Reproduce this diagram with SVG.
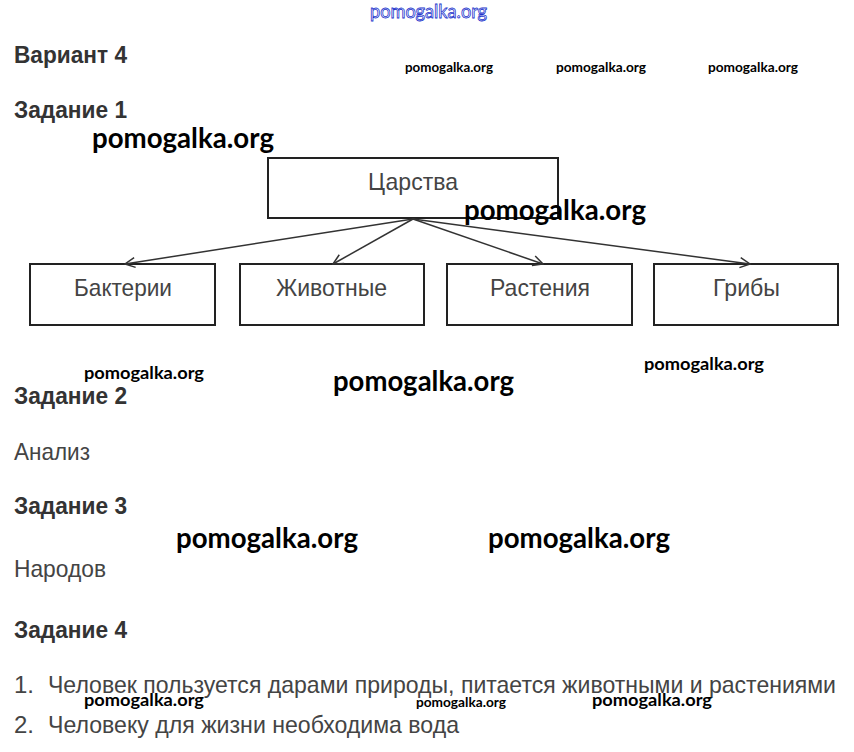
<svg xmlns="http://www.w3.org/2000/svg" width="854" height="752" viewBox="0 0 854 752">
<style>
.h{font-family:"Liberation Sans",Arial,sans-serif;font-weight:bold;font-size:24px;fill:#333}
.t{font-family:"Liberation Sans",Arial,sans-serif;font-size:24px;fill:#444}
.box{fill:#fff;stroke:#222;stroke-width:2}
.bl{font-family:"Liberation Sans",Arial,sans-serif;font-size:24px;fill:#444}
.wm{font-family:Lato,"Open Sans",sans-serif;font-weight:bold;fill:#000}
.con{stroke:#333;stroke-width:1.5;fill:none}
</style>
<defs>
<marker id="ah" viewBox="0 0 12 12" refX="11" refY="6" markerWidth="12" markerHeight="12" markerUnits="userSpaceOnUse" orient="auto">
<path d="M1,1 L11,6 L1,11" fill="none" stroke="#333" stroke-width="1.5"/>
</marker>
</defs>
<rect width="854" height="752" fill="#fff"/>
<text x="370" y="18" textLength="117" lengthAdjust="spacingAndGlyphs" font-family="Lato,sans-serif" font-size="19" fill="#fff" stroke="#2233cc" stroke-width="0.8">pomogalka.org</text>
<text class="h" x="14" y="63" textLength="113" lengthAdjust="spacingAndGlyphs">Вариант 4</text>
<text class="h" x="14" y="118" textLength="113" lengthAdjust="spacingAndGlyphs">Задание 1</text>
<g id="n0"><rect class="box" x="268" y="158" width="290" height="60"/><text class="bl" x="368" y="190" textLength="90" lengthAdjust="spacingAndGlyphs">Царства</text></g>
<g id="n1"><rect class="box" x="30" y="264" width="185" height="61"/><text class="bl" x="74" y="296" textLength="98" lengthAdjust="spacingAndGlyphs">Бактерии</text></g>
<g id="n2"><rect class="box" x="240" y="264" width="184" height="61"/><text class="bl" x="276" y="296" textLength="111" lengthAdjust="spacingAndGlyphs">Животные</text></g>
<g id="n3"><rect class="box" x="447" y="264" width="185" height="61"/><text class="bl" x="490" y="296" textLength="100" lengthAdjust="spacingAndGlyphs">Растения</text></g>
<g id="n4"><rect class="box" x="654" y="264" width="184" height="61"/><text class="bl" x="713" y="296" textLength="67" lengthAdjust="spacingAndGlyphs">Грибы</text></g>
<g id="connectors">
<line class="con" x1="413" y1="219" x2="125" y2="264" marker-end="url(#ah)"/>
<line class="con" x1="413" y1="219" x2="333" y2="264" marker-end="url(#ah)"/>
<line class="con" x1="413" y1="219" x2="543" y2="264" marker-end="url(#ah)"/>
<line class="con" x1="413" y1="219" x2="750" y2="264" marker-end="url(#ah)"/>
</g>
<text class="h" x="14" y="404" textLength="113" lengthAdjust="spacingAndGlyphs">Задание 2</text>
<text class="t" x="14" y="460" textLength="76" lengthAdjust="spacingAndGlyphs">Анализ</text>
<text class="h" x="14" y="514" textLength="113" lengthAdjust="spacingAndGlyphs">Задание 3</text>
<text class="t" x="14" y="577" textLength="92" lengthAdjust="spacingAndGlyphs">Народов</text>
<text class="h" x="14" y="638" textLength="113" lengthAdjust="spacingAndGlyphs">Задание 4</text>
<text class="t" x="14" y="693" textLength="20" lengthAdjust="spacingAndGlyphs">1.</text>
<text class="t" x="48" y="693" textLength="788" lengthAdjust="spacingAndGlyphs">Человек пользуется дарами природы, питается животными и растениями</text>
<text class="t" x="14" y="733" textLength="20" lengthAdjust="spacingAndGlyphs">2.</text>
<text class="t" x="48" y="733" textLength="411" lengthAdjust="spacingAndGlyphs">Человеку для жизни необходима вода</text>
<g>
<text class="wm" x="405" y="72" font-size="14" textLength="88" lengthAdjust="spacingAndGlyphs">pomogalka.org</text>
<text class="wm" x="556" y="72" font-size="14" textLength="90" lengthAdjust="spacingAndGlyphs">pomogalka.org</text>
<text class="wm" x="708" y="72" font-size="14" textLength="90" lengthAdjust="spacingAndGlyphs">pomogalka.org</text>
<text class="wm" x="92" y="148" font-size="28" textLength="182" lengthAdjust="spacingAndGlyphs">pomogalka.org</text>
<text class="wm" x="464" y="220" font-size="28" textLength="182" lengthAdjust="spacingAndGlyphs">pomogalka.org</text>
<text class="wm" x="84" y="379" font-size="17" textLength="120" lengthAdjust="spacingAndGlyphs">pomogalka.org</text>
<text class="wm" x="333" y="391" font-size="28" textLength="181" lengthAdjust="spacingAndGlyphs">pomogalka.org</text>
<text class="wm" x="644" y="370" font-size="17" textLength="120" lengthAdjust="spacingAndGlyphs">pomogalka.org</text>
<text class="wm" x="176" y="548" font-size="28" textLength="182" lengthAdjust="spacingAndGlyphs">pomogalka.org</text>
<text class="wm" x="488" y="548" font-size="28" textLength="182" lengthAdjust="spacingAndGlyphs">pomogalka.org</text>
<text class="wm" x="84" y="706" font-size="17" textLength="120" lengthAdjust="spacingAndGlyphs">pomogalka.org</text>
<text class="wm" x="416" y="707" font-size="14" textLength="90" lengthAdjust="spacingAndGlyphs" font-weight="normal">pomogalka.org</text>
<text class="wm" x="592" y="706" font-size="17" textLength="120" lengthAdjust="spacingAndGlyphs">pomogalka.org</text>
</g>
</svg>
